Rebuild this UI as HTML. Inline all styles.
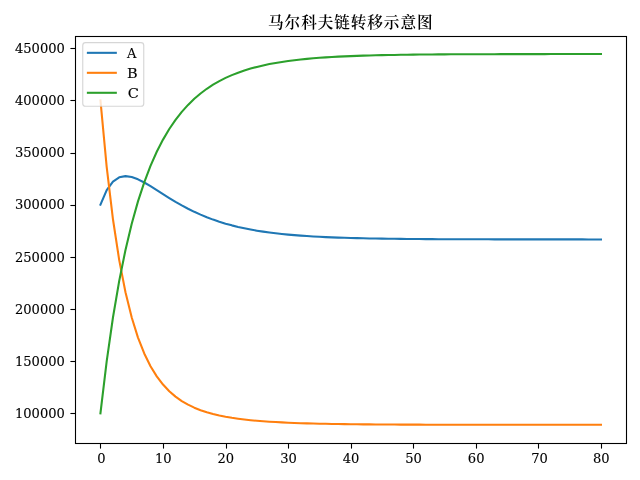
<!DOCTYPE html>
<html lang="zh-CN">
<head>
<meta charset="utf-8">
<title>马尔科夫链转移示意图</title>
<style>
html,body{margin:0;padding:0;background:#ffffff;}
body{width:640px;height:480px;overflow:hidden;}
svg{display:block;}
</style>
</head>
<body>
<svg width="640" height="480" viewBox="0 0 640 480">
<rect x="0" y="0" width="640" height="480" fill="#ffffff"/>
<defs><clipPath id="c"><rect x="75.5" y="36.5" width="551.0" height="407.0"/></clipPath></defs>
<polyline clip-path="url(#c)" points="100.45,204.67 106.71,190.07 112.96,181.52 119.22,177.29 125.48,176.11 131.73,177.02 137.99,179.32 144.25,182.50 150.50,186.19 156.76,190.13 163.02,194.12 169.27,198.05 175.53,201.83 181.78,205.40 188.04,208.74 194.30,211.82 200.55,214.66 206.81,217.25 213.07,219.60 219.32,221.73 225.58,223.65 231.84,225.37 238.09,226.92 244.35,228.30 250.61,229.54 256.86,230.65 263.12,231.63 269.38,232.51 275.63,233.29 281.89,233.99 288.15,234.60 294.40,235.15 300.66,235.64 306.91,236.07 313.17,236.45 319.43,236.79 325.68,237.09 331.94,237.36 338.20,237.60 344.45,237.81 350.71,237.99 356.97,238.16 363.22,238.30 369.48,238.43 375.74,238.55 381.99,238.65 388.25,238.74 394.51,238.82 400.76,238.89 407.02,238.95 413.28,239.00 419.53,239.05 425.79,239.10 432.04,239.13 438.30,239.17 444.56,239.20 450.81,239.23 457.07,239.25 463.33,239.27 469.58,239.29 475.84,239.30 482.10,239.32 488.35,239.33 494.61,239.34 500.87,239.35 507.12,239.36 513.38,239.37 519.64,239.38 525.89,239.38 532.15,239.39 538.41,239.39 544.66,239.40 550.92,239.40 557.17,239.40 563.43,239.41 569.69,239.41 575.94,239.41 582.20,239.41 588.46,239.42 594.71,239.42 600.97,239.42" fill="none" stroke="#1f77b4" stroke-width="2.08" stroke-linecap="square" stroke-linejoin="round"/>
<polyline clip-path="url(#c)" points="100.45,100.39 106.71,167.13 112.96,219.27 119.22,260.12 125.48,292.22 131.73,317.53 137.99,337.57 144.25,353.48 150.50,366.19 156.76,376.37 163.02,384.57 169.27,391.21 175.53,396.61 181.78,401.03 188.04,404.66 194.30,407.67 200.55,410.17 206.81,412.25 213.07,414.00 219.32,415.48 225.58,416.73 231.84,417.80 238.09,418.71 244.35,419.49 250.61,420.17 256.86,420.75 263.12,421.25 269.38,421.69 275.63,422.07 281.89,422.40 288.15,422.69 294.40,422.94 300.66,423.17 306.91,423.36 313.17,423.53 319.43,423.68 325.68,423.82 331.94,423.93 338.20,424.03 344.45,424.13 350.71,424.21 356.97,424.28 363.22,424.34 369.48,424.39 375.74,424.44 381.99,424.49 388.25,424.52 394.51,424.56 400.76,424.59 407.02,424.61 413.28,424.64 419.53,424.66 425.79,424.68 432.04,424.69 438.30,424.71 444.56,424.72 450.81,424.73 457.07,424.74 463.33,424.75 469.58,424.76 475.84,424.76 482.10,424.77 488.35,424.78 494.61,424.78 500.87,424.78 507.12,424.79 513.38,424.79 519.64,424.79 525.89,424.80 532.15,424.80 538.41,424.80 544.66,424.80 550.92,424.80 557.17,424.81 563.43,424.81 569.69,424.81 575.94,424.81 582.20,424.81 588.46,424.81 594.71,424.81 600.97,424.81" fill="none" stroke="#ff7f0e" stroke-width="2.08" stroke-linecap="square" stroke-linejoin="round"/>
<polyline clip-path="url(#c)" points="100.45,413.23 106.71,361.09 112.96,317.50 119.22,280.88 125.48,249.96 131.73,223.74 137.99,201.40 144.25,182.31 150.50,165.91 156.76,151.79 163.02,139.60 169.27,129.03 175.53,119.85 181.78,111.86 188.04,104.89 194.30,98.80 200.55,93.46 206.81,88.79 213.07,84.69 219.32,81.08 225.58,77.91 231.84,75.12 238.09,72.66 244.35,70.49 250.61,68.58 256.86,66.90 263.12,65.41 269.38,64.09 275.63,62.93 281.89,61.91 288.15,61.00 294.40,60.20 300.66,59.49 306.91,58.86 313.17,58.31 319.43,57.82 325.68,57.38 331.94,57.00 338.20,56.66 344.45,56.36 350.71,56.09 356.97,55.86 363.22,55.65 369.48,55.46 375.74,55.30 381.99,55.16 388.25,55.03 394.51,54.92 400.76,54.81 407.02,54.73 413.28,54.65 419.53,54.58 425.79,54.52 432.04,54.46 438.30,54.41 444.56,54.37 450.81,54.33 457.07,54.30 463.33,54.27 469.58,54.25 475.84,54.22 482.10,54.20 488.35,54.18 494.61,54.17 500.87,54.15 507.12,54.14 513.38,54.13 519.64,54.12 525.89,54.11 532.15,54.10 538.41,54.10 544.66,54.09 550.92,54.08 557.17,54.08 563.43,54.08 569.69,54.07 575.94,54.07 582.20,54.07 588.46,54.06 594.71,54.06 600.97,54.06" fill="none" stroke="#2ca02c" stroke-width="2.08" stroke-linecap="square" stroke-linejoin="round"/>
<line x1="100.5" y1="443.5" x2="100.5" y2="448.60" stroke="#000" stroke-width="1.1"/>
<text x="101.45" y="462.9" text-anchor="middle" font-size="13.06" font-family="'DejaVu Serif', 'Liberation Serif', serif" fill="#000" stroke="#000" stroke-width="0.12">0</text>
<line x1="163.5" y1="443.5" x2="163.5" y2="448.60" stroke="#000" stroke-width="1.1"/>
<text x="163.32" y="462.9" text-anchor="middle" font-size="13.06" font-family="'DejaVu Serif', 'Liberation Serif', serif" fill="#000" stroke="#000" stroke-width="0.12">10</text>
<line x1="226.5" y1="443.5" x2="226.5" y2="448.60" stroke="#000" stroke-width="1.1"/>
<text x="225.88" y="462.9" text-anchor="middle" font-size="13.06" font-family="'DejaVu Serif', 'Liberation Serif', serif" fill="#000" stroke="#000" stroke-width="0.12">20</text>
<line x1="288.5" y1="443.5" x2="288.5" y2="448.60" stroke="#000" stroke-width="1.1"/>
<text x="288.45" y="462.9" text-anchor="middle" font-size="13.06" font-family="'DejaVu Serif', 'Liberation Serif', serif" fill="#000" stroke="#000" stroke-width="0.12">30</text>
<line x1="351.5" y1="443.5" x2="351.5" y2="448.60" stroke="#000" stroke-width="1.1"/>
<text x="351.01" y="462.9" text-anchor="middle" font-size="13.06" font-family="'DejaVu Serif', 'Liberation Serif', serif" fill="#000" stroke="#000" stroke-width="0.12">40</text>
<line x1="413.5" y1="443.5" x2="413.5" y2="448.60" stroke="#000" stroke-width="1.1"/>
<text x="413.58" y="462.9" text-anchor="middle" font-size="13.06" font-family="'DejaVu Serif', 'Liberation Serif', serif" fill="#000" stroke="#000" stroke-width="0.12">50</text>
<line x1="476.5" y1="443.5" x2="476.5" y2="448.60" stroke="#000" stroke-width="1.1"/>
<text x="476.14" y="462.9" text-anchor="middle" font-size="13.06" font-family="'DejaVu Serif', 'Liberation Serif', serif" fill="#000" stroke="#000" stroke-width="0.12">60</text>
<line x1="538.5" y1="443.5" x2="538.5" y2="448.60" stroke="#000" stroke-width="1.1"/>
<text x="539.50" y="462.9" text-anchor="middle" font-size="13.06" font-family="'DejaVu Serif', 'Liberation Serif', serif" fill="#000" stroke="#000" stroke-width="0.12">70</text>
<line x1="601.5" y1="443.5" x2="601.5" y2="448.60" stroke="#000" stroke-width="1.1"/>
<text x="601.27" y="462.9" text-anchor="middle" font-size="13.06" font-family="'DejaVu Serif', 'Liberation Serif', serif" fill="#000" stroke="#000" stroke-width="0.12">80</text>
<line x1="70.40" y1="413.5" x2="75.5" y2="413.5" stroke="#000" stroke-width="1.1"/>
<text x="64.8" y="418.03" text-anchor="end" font-size="13.06" font-family="'DejaVu Serif', 'Liberation Serif', serif" fill="#000" stroke="#000" stroke-width="0.12">100000</text>
<line x1="70.40" y1="361.5" x2="75.5" y2="361.5" stroke="#000" stroke-width="1.1"/>
<text x="64.8" y="365.89" text-anchor="end" font-size="13.06" font-family="'DejaVu Serif', 'Liberation Serif', serif" fill="#000" stroke="#000" stroke-width="0.12">150000</text>
<line x1="70.40" y1="309.5" x2="75.5" y2="309.5" stroke="#000" stroke-width="1.1"/>
<text x="64.8" y="313.75" text-anchor="end" font-size="13.06" font-family="'DejaVu Serif', 'Liberation Serif', serif" fill="#000" stroke="#000" stroke-width="0.12">200000</text>
<line x1="70.40" y1="257.5" x2="75.5" y2="257.5" stroke="#000" stroke-width="1.1"/>
<text x="64.8" y="261.61" text-anchor="end" font-size="13.06" font-family="'DejaVu Serif', 'Liberation Serif', serif" fill="#000" stroke="#000" stroke-width="0.12">250000</text>
<line x1="70.40" y1="205.5" x2="75.5" y2="205.5" stroke="#000" stroke-width="1.1"/>
<text x="64.8" y="209.47" text-anchor="end" font-size="13.06" font-family="'DejaVu Serif', 'Liberation Serif', serif" fill="#000" stroke="#000" stroke-width="0.12">300000</text>
<line x1="70.40" y1="153.5" x2="75.5" y2="153.5" stroke="#000" stroke-width="1.1"/>
<text x="64.8" y="157.33" text-anchor="end" font-size="13.06" font-family="'DejaVu Serif', 'Liberation Serif', serif" fill="#000" stroke="#000" stroke-width="0.12">350000</text>
<line x1="70.40" y1="100.5" x2="75.5" y2="100.5" stroke="#000" stroke-width="1.1"/>
<text x="64.8" y="105.19" text-anchor="end" font-size="13.06" font-family="'DejaVu Serif', 'Liberation Serif', serif" fill="#000" stroke="#000" stroke-width="0.12">400000</text>
<line x1="70.40" y1="48.5" x2="75.5" y2="48.5" stroke="#000" stroke-width="1.1"/>
<text x="64.8" y="53.05" text-anchor="end" font-size="13.06" font-family="'DejaVu Serif', 'Liberation Serif', serif" fill="#000" stroke="#000" stroke-width="0.12">450000</text>
<rect x="75.5" y="36.5" width="551.0" height="407.0" fill="none" stroke="#000" stroke-width="1.1"/>
<rect x="82.75" y="42.65" width="61" height="63.6" rx="2.8" ry="2.8" fill="#ffffff" fill-opacity="0.8" stroke="#cccccc" stroke-opacity="0.8" stroke-width="1.15"/>
<line x1="87.9" y1="52.83" x2="115.8" y2="52.83" stroke="#1f77b4" stroke-width="2.08" stroke-linecap="square"/>
<text transform="translate(126.9,57.80) scale(1,1)" font-size="13.06" font-family="'DejaVu Serif', 'Liberation Serif', serif" fill="#000" stroke="#000" stroke-width="0.12">A</text>
<line x1="87.9" y1="72.81" x2="115.8" y2="72.81" stroke="#ff7f0e" stroke-width="2.08" stroke-linecap="square"/>
<text transform="translate(127.0,77.78) scale(1.11,1)" font-size="13.06" font-family="'DejaVu Serif', 'Liberation Serif', serif" fill="#000" stroke="#000" stroke-width="0.12">B</text>
<line x1="87.9" y1="92.79" x2="115.8" y2="92.79" stroke="#2ca02c" stroke-width="2.08" stroke-linecap="square"/>
<text transform="translate(127.8,97.76) scale(1.12,1)" font-size="13.06" font-family="'DejaVu Serif', 'Liberation Serif', serif" fill="#000" stroke="#000" stroke-width="0.12">C</text>
<text x="350.8" y="28.3" text-anchor="middle" font-size="15.6" font-weight="600" letter-spacing="0.95" font-family="'Liberation Serif', 'Noto Serif CJK SC', serif" fill="#000">马尔科夫链转移示意图</text>
</svg>
</body>
</html>
